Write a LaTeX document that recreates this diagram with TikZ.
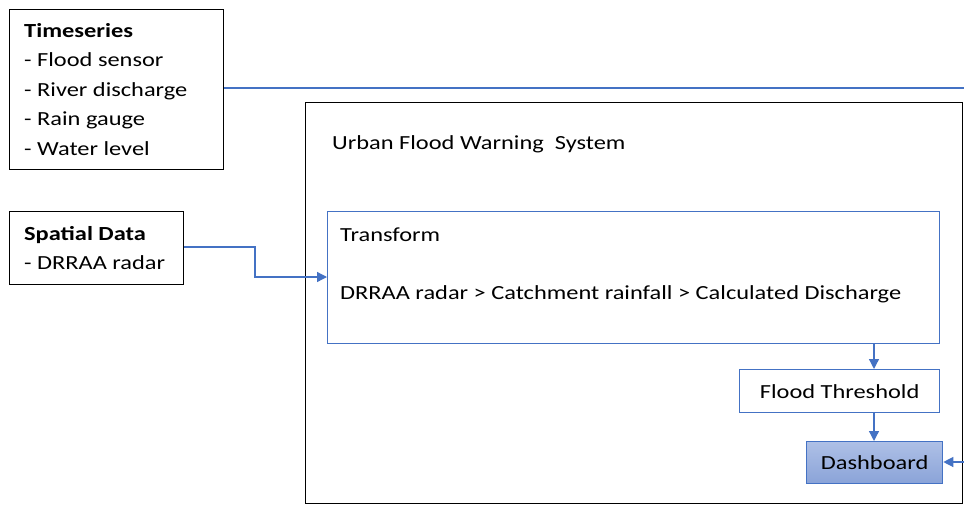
\documentclass[tikz,border=0pt]{standalone}
\usepackage{fontspec}
\setmainfont{Carlito}[FakeStretch=1.22]
\usetikzlibrary{arrows.meta}
\definecolor{ofblue}{HTML}{4472C4}
\definecolor{dbtop}{HTML}{AEC0E6}
\definecolor{dbbot}{HTML}{8AA3D8}
\tikzset{
  blackbox/.style={draw=black, line width=1.3pt, inner sep=0pt},
  bluebox/.style={draw=ofblue, line width=1.3pt, inner sep=0pt},
  conn/.style={draw=ofblue, line width=1.3pt},
  arr/.style={conn, -{Triangle[length=10pt,width=10pt]}},
  txt/.style={font=\fontsize{20}{29.5}\selectfont, inner sep=0pt, anchor=west, align=left},
}
\begin{document}
\begin{tikzpicture}[x=1pt,y=-1pt]
\useasboundingbox (0,0) rectangle (964,506);
% boxes
\node[blackbox, minimum width=214pt, minimum height=160pt, anchor=north west] (ts) at (9,9) {};
\node[txt, anchor=north west] (tstext) at (24,23) {\textbf{Timeseries}\\- Flood sensor\\- River discharge\\- Rain gauge\\- Water level};
\node[blackbox, minimum width=174pt, minimum height=73pt, anchor=north west] (sd) at (9,211) {};
\node[txt, anchor=north west] (sdtext) at (24,226) {\textbf{Spatial Data}\\- DRRAA radar};
\node[blackbox, line width=1.1pt, minimum width=657pt, minimum height=401pt, anchor=north west] (ufws) at (305,102) {};
\node[txt] (ufwstext) at (332,144) {Urban Flood Warning\ \ System};
\node[bluebox, minimum width=612pt, minimum height=132pt, anchor=north west] (tr) at (327,211) {};
\node[txt] (trtitle) at (340,235) {Transform};
\node[txt] (trtext) at (340,294) {DRRAA radar > Catchment rainfall > Calculated Discharge};
\node[bluebox, minimum width=200pt, minimum height=43pt, anchor=north west, font=\fontsize{20}{24}\selectfont] (ft) at (739,369) {Flood Threshold};
\node[draw=ofblue, line width=1.3pt, minimum width=136pt, minimum height=42pt, anchor=north west,
      top color=dbtop, bottom color=dbbot, font=\fontsize{20}{24}\selectfont, inner sep=0pt] (db) at (806,441) {Dashboard};
% connectors
\coordinate (sdbend) at (255,247);
\draw[arr] (sd.east |- sdbend) -- (sdbend) |- (tr.west |- 0,277);
\draw[arr] (tr.south -| 874,0) -- (ft.north -| 874,0);
\draw[arr] (ft.south -| 874,0) -- (db.north -| 874,0);
\begin{scope}
\clip (0,0) rectangle (964,506);
\coordinate (rtop) at (985,88);
\coordinate (rbot) at (985,462);
\draw[conn] (ts.east |- rtop) -- (rtop) -- (rbot);
\draw[arr] (rbot) -- (db.east |- rbot);
\end{scope}
\end{tikzpicture}
\end{document}
